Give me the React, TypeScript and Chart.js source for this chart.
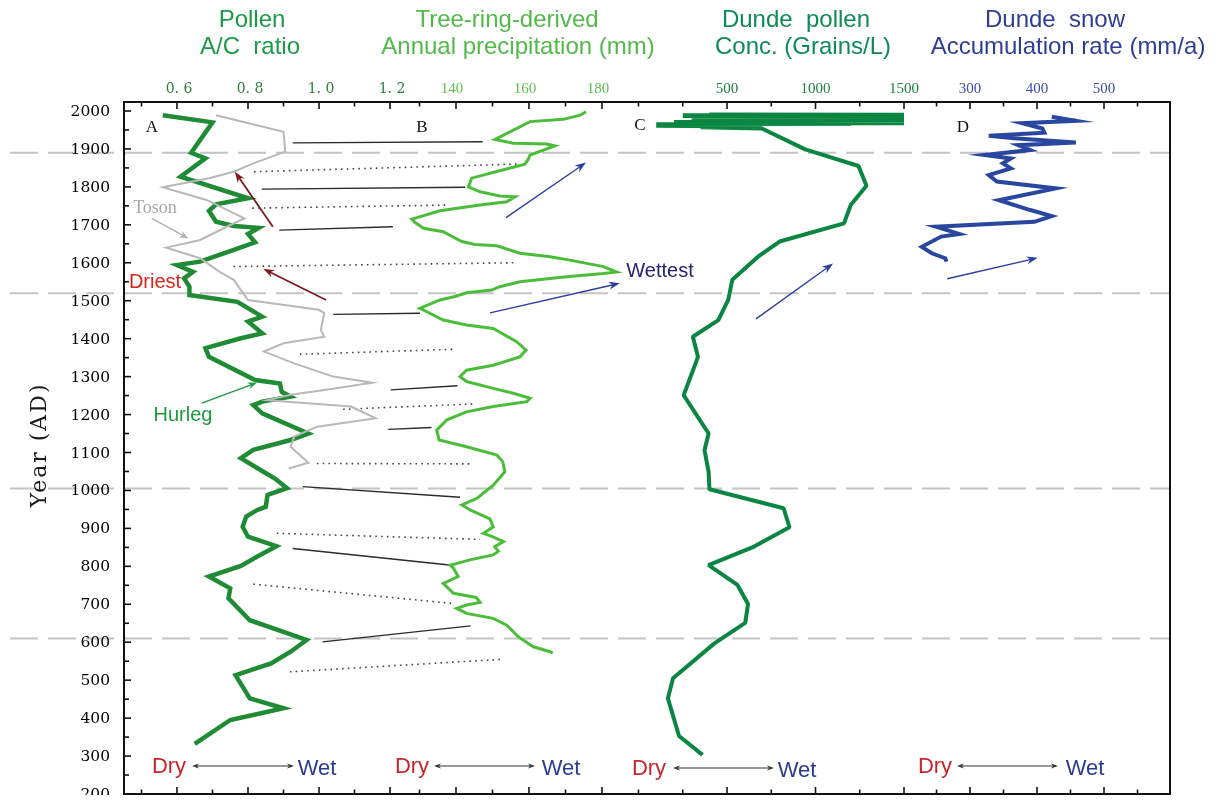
import React, { useEffect, useRef } from "react";
import { Chart, registerables } from "chart.js";
Chart.register(...registerables);

// ---------- DATA ----------
// A: Pollen A/C ratio (Hurleg, Toson)
const hurlegYears = [1989, 1970, 1890, 1875, 1827, 1770, 1754, 1737, 1708, 1697, 1692, 1676, 1654, 1634, 1603, 1594, 1576, 1559, 1537, 1515, 1497, 1458, 1445, 1414, 1401, 1375, 1352, 1291, 1282, 1260, 1247, 1234, 1225, 1203, 1150, 1133, 1107, 1085, 1054, 1032, 1006, 988, 957, 948, 931, 904, 878, 853, 825, 801, 773, 742, 716, 658, 606, 575, 544, 513, 452, 426, 395, 332];
const hurlegRatio = [0.56, 0.70, 0.64, 0.68, 0.61, 0.80, 0.71, 0.69, 0.71, 0.76, 0.83, 0.80, 0.82, 0.76, 0.665, 0.60, 0.645, 0.62, 0.635, 0.635, 0.77, 0.84, 0.80, 0.84, 0.78, 0.68, 0.69, 0.82, 0.89, 0.895, 0.92, 0.84, 0.815, 0.84, 0.97, 0.92, 0.815, 0.78, 0.835, 0.875, 0.91, 0.855, 0.85, 0.825, 0.795, 0.785, 0.80, 0.88, 0.825, 0.78, 0.69, 0.75, 0.745, 0.805, 0.965, 0.92, 0.865, 0.765, 0.805, 0.90, 0.75, 0.65];
const tosonYears = [1989, 1945, 1893, 1862, 1840, 1823, 1799, 1765, 1717, 1695, 1660, 1640, 1612, 1576, 1555, 1528, 1502, 1476, 1467, 1423, 1405, 1388, 1366, 1335, 1300, 1284, 1265, 1252, 1238, 1221, 1190, 1168, 1142, 1115, 1073, 1058];
const tosonRatio = [0.71, 0.90, 0.905, 0.815, 0.76, 0.69, 0.56, 0.685, 0.79, 0.74, 0.665, 0.57, 0.665, 0.72, 0.76, 0.78, 0.80, 1.00, 1.015, 1.005, 1.015, 0.90, 0.845, 0.93, 1.04, 1.15, 1.015, 0.92, 0.855, 1.09, 1.16, 0.995, 0.93, 0.92, 0.97, 0.915];

// B: Tree-ring-derived annual precipitation (mm)
const precipYears = [1998, 1989, 1978, 1972, 1925, 1915, 1913, 1908, 1884, 1873, 1860, 1845, 1823, 1800, 1787, 1776, 1774, 1761, 1752, 1737, 1715, 1706, 1691, 1682, 1656, 1648, 1645, 1625, 1616, 1607, 1590, 1576, 1572, 1563, 1550, 1537, 1528, 1521, 1511, 1502, 1480, 1471, 1449, 1436, 1427, 1392, 1370, 1352, 1330, 1317, 1300, 1287, 1269, 1256, 1243, 1234, 1221, 1207, 1186, 1159, 1133, 1115, 1093, 1076, 1049, 1014, 979, 962, 948, 925, 904, 887, 879, 865, 852, 840, 830, 817, 803, 795, 773, 755, 729, 718, 705, 698, 689, 676, 663, 645, 614, 588, 575, 571];
const precipMm = [175.6, 174, 169.4, 160.3, 150.7, 155.7, 164.8, 167.1, 160.3, 159.8, 158.9, 153, 144.3, 143.4, 146.6, 152, 156.2, 153.9, 146.6, 135.6, 127.9, 128.8, 131.1, 136.5, 141.6, 145.2, 151.2, 157.5, 165.8, 171.2, 180.4, 184, 180.4, 170.3, 157.5, 152, 149.8, 142.9, 139.7, 135.6, 130.1, 132, 136.5, 142.9, 150.2, 156.6, 159.2, 157.5, 150.2, 142.9, 141.1, 142.9, 150.2, 155.7, 160.3, 159.4, 150.2, 142.9, 137.5, 134.7, 135.4, 142.9, 151.2, 152.8, 153.4, 150.2, 145.7, 141.6, 144.0, 149.3, 150.2, 147.5, 149.8, 153.0, 150.6, 151.6, 150.2, 143.8, 138.4, 139.3, 140.6, 136.5, 139.3, 145.5, 146.6, 142.9, 140.2, 142.9, 150.2, 153.9, 157.1, 161.2, 165.8, 166.5];

// C: Dunde pollen concentration (grains/L)
const concYears = [1991, 1990, 1989, 1988, 1987, 1986, 1985, 1984, 1983, 1982, 1981, 1980, 1979, 1978, 1977, 1976, 1975, 1974, 1973, 1972, 1971, 1970, 1969, 1968, 1967, 1966, 1965, 1963, 1961, 1959, 1957, 1954, 1899, 1855, 1803, 1752, 1704, 1656, 1616, 1555, 1502, 1449, 1405, 1352, 1251, 1150, 1106, 1049, 1003, 953, 903, 852, 803, 751, 701, 651, 597, 505, 452, 353, 303];
const concGrains = [400, 1500, 250, 1500, 250, 1500, 300, 1500, 400, 1500, 300, 1500, 350, 1500, 300, 1500, 400, 1500, 300, 1500, 200, 1500, 250, 1500, 200, 1200, 100, 700, 100, 650, 350, 697, 942, 1243, 1288, 1199, 1161, 797, 675, 530, 507, 451, 307, 336, 255, 396, 373, 396, 401, 820, 853, 653, 396, 559, 619, 603, 429, 195, 166, 229, 362];

// D: Dunde snow accumulation rate (mm/a)
const snowYears = [1985, 1974, 1968, 1954, 1943, 1935, 1928, 1917, 1910, 1897, 1884, 1875, 1862, 1849, 1831, 1814, 1796, 1765, 1739, 1723, 1708, 1695, 1676, 1669, 1642, 1625, 1612, 1603];
const snowRate = [422, 458, 378, 408, 411, 328, 366, 458, 372, 390, 322, 361, 349, 361, 328, 340, 428, 343, 390, 422, 396, 249, 284, 257, 228, 243, 263, 265];

// ticks
const yearTicks = [200, 300, 400, 500, 600, 700, 800, 900, 1000, 1100, 1200, 1300, 1400, 1500, 1600, 1700, 1800, 1900, 2000];
const ratioTicks = [0.6, 0.8, 1.0, 1.2];
const ratioTickLabels = ["0. 6", "0. 8", "1. 0", "1. 2"];
const ratioMinor = [0.5, 0.7, 0.9, 1.1];
const precipTicks = [140, 160, 180];
const precipMinor = [130, 150, 170, 190];
const concTicks = [500, 1000, 1500];
const concMinor = [250, 750, 1250];
const snowTicks = [300, 400, 500];
const snowMinor = [250, 350, 450, 550];
const boundaryYears = [1890, 1520, 1005, 610];

// connectors between A and B
const connSolid = [true, false, true, false, true, false, true, false, true, false, true, false, true, false, true, false, true, false];
const connLeftYear = [1916, 1840, 1794, 1744, 1686, 1590, 1464, 1359, 1265, 1214, 1161, 1071, 1010, 887, 847, 753, 601, 522];
const connLeftRatio = [0.926, 0.817, 0.839, 0.812, 0.888, 0.759, 1.04, 0.946, 1.202, 1.068, 1.195, 0.994, 0.954, 0.881, 0.926, 0.815, 1.01, 0.918];
const connRightYear = [1919, 1860, 1799, 1752, 1695, 1600, 1467, 1372, 1276, 1228, 1166, 1070, 982, 871, 803, 702, 643, 555];
const connRightPrecip = [147.3, 156.6, 142.5, 137.5, 122.7, 155.7, 130.1, 139.5, 140.4, 145.2, 133.3, 144.3, 141.1, 146.6, 138.8, 139.3, 144.0, 152.5];

const OFF = 8; // body margin

export default function App() {
  const ref = useRef<HTMLCanvasElement | null>(null);
  useEffect(() => {
    const canvas = ref.current!;
    const P = (v: number) => v - OFF;

    const arrow = (ctx: CanvasRenderingContext2D, x1: number, y1: number, x2: number, y2: number, color: string, w: number, hl: number, hw: number, both = false) => {
      ctx.save();
      ctx.strokeStyle = color; ctx.fillStyle = color; ctx.lineWidth = w; ctx.setLineDash([]);
      const ang = Math.atan2(y2 - y1, x2 - x1);
      const head = (x: number, y: number, a: number) => {
        ctx.beginPath();
        ctx.moveTo(x, y);
        ctx.lineTo(x - hl * Math.cos(a) + hw * Math.sin(a), y - hl * Math.sin(a) - hw * Math.cos(a));
        ctx.lineTo(x - hl * 0.7 * Math.cos(a), y - hl * 0.7 * Math.sin(a));
        ctx.lineTo(x - hl * Math.cos(a) - hw * Math.sin(a), y - hl * Math.sin(a) + hw * Math.cos(a));
        ctx.closePath(); ctx.fill();
      };
      ctx.beginPath();
      const sx = both ? x1 + hl * 0.7 * Math.cos(ang) : x1, sy = both ? y1 + hl * 0.7 * Math.sin(ang) : y1;
      ctx.moveTo(sx, sy);
      ctx.lineTo(x2 - hl * 0.7 * Math.cos(ang), y2 - hl * 0.7 * Math.sin(ang));
      ctx.stroke();
      head(x2, y2, ang);
      if (both) head(x1, y1, ang + Math.PI);
      ctx.restore();
    };

    const text = (ctx: CanvasRenderingContext2D, s: string, x: number, y: number, font: string, color: string, align: CanvasTextAlign = "center") => {
      ctx.save(); ctx.font = font; ctx.fillStyle = color; ctx.textAlign = align; ctx.textBaseline = "middle";
      ctx.fillText(s, x, y); ctx.restore();
    };

    const plugin = {
      id: "figure",
      beforeDatasetsDraw(chart: any) {
        const ctx: CanvasRenderingContext2D = chart.ctx;
        const { y, xA, xB } = chart.scales;
        const area = chart.chartArea;
        // dashed boundary lines
        ctx.save();
        ctx.strokeStyle = "#c4c4c4"; ctx.lineWidth = 2; ctx.setLineDash([28, 10]);
        boundaryYears.forEach((yr) => {
          const py = y.getPixelForValue(yr);
          ctx.beginPath(); ctx.moveTo(P(10), py); ctx.lineTo(area.right, py); ctx.stroke();
        });
        ctx.restore();
        // connectors
        connSolid.forEach((solid, i) => {
          ctx.save();
          ctx.strokeStyle = solid ? "#2a2a2a" : "#444";
          ctx.lineWidth = solid ? 1.4 : 1.6;
          ctx.setLineDash(solid ? [] : [1.6, 4.2]);
          ctx.beginPath();
          ctx.moveTo(xA.getPixelForValue(connLeftRatio[i]), y.getPixelForValue(connLeftYear[i]));
          ctx.lineTo(xB.getPixelForValue(connRightPrecip[i]), y.getPixelForValue(connRightYear[i]));
          ctx.stroke();
          ctx.restore();
        });
      },
      afterDraw(chart: any) {
        const ctx: CanvasRenderingContext2D = chart.ctx;
        const { y, xA, xB, xC, xD } = chart.scales;
        const a = chart.chartArea;
        // frame
        ctx.save();
        ctx.strokeStyle = "#111"; ctx.lineWidth = 2; ctx.setLineDash([]);
        ctx.strokeRect(a.left, a.top, a.right - a.left, a.bottom - a.top);
        // y ticks
        ctx.lineWidth = 1.6;
        for (let yr = 250; yr <= 2000; yr += 50) {
          const py = y.getPixelForValue(yr);
          const len = yr % 100 === 0 ? 7 : 5;
          ctx.beginPath(); ctx.moveTo(a.left, py); ctx.lineTo(a.left + len, py); ctx.stroke();
        }
        // x ticks top & bottom
        const tk = (px: number, major: boolean) => {
          const len = major ? 7 : 4.5;
          ctx.beginPath(); ctx.moveTo(px, a.top); ctx.lineTo(px, a.top + len); ctx.stroke();
          ctx.beginPath(); ctx.moveTo(px, a.bottom); ctx.lineTo(px, a.bottom - len); ctx.stroke();
        };
        ratioTicks.forEach((v) => tk(xA.getPixelForValue(v), true));
        ratioMinor.forEach((v) => tk(xA.getPixelForValue(v), false));
        precipTicks.forEach((v) => tk(xB.getPixelForValue(v), true));
        precipMinor.forEach((v) => tk(xB.getPixelForValue(v), false));
        concTicks.forEach((v) => tk(xC.getPixelForValue(v), true));
        concMinor.forEach((v) => tk(xC.getPixelForValue(v), false));
        snowTicks.forEach((v) => tk(xD.getPixelForValue(v), true));
        snowMinor.forEach((v) => tk(xD.getPixelForValue(v), false));
        ctx.restore();

        // y labels
        yearTicks.forEach((yr) => text(ctx, String(yr), P(110), y.getPixelForValue(yr) + 1, "15.5px 'DejaVu Serif'", "#000", "right"));
        // top tick labels
        const ty = P(89);
        ratioTicks.forEach((v, i) => text(ctx, ratioTickLabels[i], xA.getPixelForValue(v) + 2, ty, "14px 'DejaVu Serif'", "#2a7f38"));
        precipTicks.forEach((v) => text(ctx, String(v), xB.getPixelForValue(v) - 4, ty, "15px 'Liberation Serif'", "#5cbf4a"));
        concTicks.forEach((v) => text(ctx, String(v), xC.getPixelForValue(v), ty, "15px 'Liberation Serif'", "#1f7f3e"));
        snowTicks.forEach((v) => text(ctx, String(v), xD.getPixelForValue(v), ty, "15px 'Liberation Serif'", "#3b50a3"));

        // headers
        const hf = "24px 'Liberation Sans'";
        text(ctx, "Pollen", P(252), P(20), hf, "#1d9a48");
        text(ctx, "A/C  ratio", P(250), P(47), hf, "#1d9a48");
        text(ctx, "Tree-ring-derived", P(507), P(20), hf, "#52b94a");
        text(ctx, "Annual precipitation (mm)", P(518), P(47), hf, "#52b94a");
        text(ctx, "Dunde  pollen", P(796), P(20), hf, "#0e8a55");
        text(ctx, "Conc. (Grains/L)", P(803), P(47), hf, "#0e8a55");
        text(ctx, "Dunde  snow", P(1055), P(20), hf, "#2e3f93");
        text(ctx, "Accumulation rate (mm/a)", P(1068), P(47), hf, "#2e3f93");

        // y title
        ctx.save();
        ctx.translate(P(40), P(445));
        ctx.rotate(-Math.PI / 2);
        ctx.font = "22px 'DejaVu Serif'";
        (ctx as any).letterSpacing = "2px";
        ctx.fillStyle = "#1a1a1a"; ctx.textAlign = "center"; ctx.textBaseline = "middle";
        ctx.fillText("Year (AD)", 0, 0);
        ctx.restore();

        // panel letters
        const lf = "17px 'Liberation Serif'";
        text(ctx, "A", P(152), P(128), lf, "#111");
        text(ctx, "B", P(422), P(128), lf, "#111");
        text(ctx, "C", P(640), P(126), lf, "#111");
        text(ctx, "D", P(963), P(128), lf, "#111");

        // annotations panel A
        text(ctx, "Toson", P(155), P(208), "18px 'Liberation Serif'", "#a8a8a8");
        arrow(ctx, xA.getPixelForValue(0.529), y.getPixelForValue(1717), xA.getPixelForValue(0.632), y.getPixelForValue(1664), "#b0b0b0", 1.4, 9, 3.5);
        text(ctx, "Driest", P(155), P(282), "20px 'Liberation Sans'", "#e0231f");
        text(ctx, "Hurleg", P(183), P(415), "20px 'Liberation Sans'", "#1e9a3e");
        arrow(ctx, xA.getPixelForValue(0.67), y.getPixelForValue(1230), xA.getPixelForValue(0.825), y.getPixelForValue(1284), "#1e9a3e", 1.4, 9, 3.5);
        arrow(ctx, xA.getPixelForValue(0.87), y.getPixelForValue(1695), xA.getPixelForValue(0.763), y.getPixelForValue(1840), "#7a1c1c", 1.8, 11, 4);
        arrow(ctx, xA.getPixelForValue(1.02), y.getPixelForValue(1502), xA.getPixelForValue(0.843), y.getPixelForValue(1584), "#7a1c1c", 1.8, 11, 4);
        // blue arrows
        arrow(ctx, xB.getPixelForValue(153.7), y.getPixelForValue(1719), xB.getPixelForValue(175.6), y.getPixelForValue(1864), "#2b3f9e", 1.4, 11, 4);
        arrow(ctx, xB.getPixelForValue(149.3), y.getPixelForValue(1468), xB.getPixelForValue(184.9), y.getPixelForValue(1546), "#2b3f9e", 1.4, 11, 4);
        arrow(ctx, xC.getPixelForValue(664), y.getPixelForValue(1452), xC.getPixelForValue(1099), y.getPixelForValue(1598), "#2b3f9e", 1.4, 11, 4);
        arrow(ctx, xD.getPixelForValue(266), y.getPixelForValue(1558), xD.getPixelForValue(401), y.getPixelForValue(1613), "#2b3f9e", 1.4, 11, 4);
        text(ctx, "Wettest", P(660), P(271), "20px 'Liberation Sans'", "#23236e");

        // Dry <-> Wet
        const dw = (dry: number, a1: number, a2: number, wet: number, yy: number) => {
          text(ctx, "Dry", P(dry), P(yy), "22px 'Liberation Sans'", "#c4262b");
          arrow(ctx, P(a1), P(yy - 1), P(a2), P(yy - 1), "#333", 1.2, 7, 2.6, true);
          text(ctx, "Wet", P(wet), P(yy + 2), "22px 'Liberation Sans'", "#2b3d8f");
        };
        dw(169, 192, 294, 317, 767);
        dw(412, 434, 535, 561, 767);
        dw(649, 673, 774, 797, 769);
        dw(935, 957, 1058, 1085, 767);
      },
    };

    const mk = (xs: number[], ys: number[]) => ys.map((yy, i) => ({ x: xs[i], y: yy }));
    const chart = new Chart(canvas, {
      type: "scatter",
      data: {
        datasets: [
          { data: mk(tosonRatio, tosonYears), xAxisID: "xA", yAxisID: "y", showLine: true, borderColor: "#b8b8b8", borderWidth: 2, pointRadius: 0 },
          { data: mk(hurlegRatio, hurlegYears), xAxisID: "xA", yAxisID: "y", showLine: true, borderColor: "#1f8b34", borderWidth: 4.5, pointRadius: 0 },
          { data: mk(precipMm, precipYears), xAxisID: "xB", yAxisID: "y", showLine: true, borderColor: "#4cbd3a", borderWidth: 3, pointRadius: 0 },
          { data: mk(concGrains, concYears), xAxisID: "xC", yAxisID: "y", showLine: true, borderColor: "#0a8642", borderWidth: 4, pointRadius: 0, borderJoinStyle: "bevel" },
          { data: mk(snowRate, snowYears), xAxisID: "xD", yAxisID: "y", showLine: true, borderColor: "#2a47a0", borderWidth: 4, pointRadius: 0 },
        ],
      } as any,
      options: {
        animation: false,
        responsive: false,
        layout: { padding: { left: 116, top: 94, right: 41, bottom: 1 } },
        plugins: { legend: { display: false }, tooltip: { enabled: false } },
        scales: {
          y: { type: "linear", min: 200, max: 2023.72, display: false },
          xA: { type: "linear", axis: "x", min: 0.4507, max: 3.39718, display: false },
          xB: { type: "linear", axis: "x", min: 49.04, max: 335.62, display: false },
          xC: { type: "linear", axis: "x", min: -2906.8, max: 3002.8, display: false },
          xD: { type: "linear", axis: "x", min: -962.7, max: 598.5, display: false },
        },
      } as any,
      plugins: [plugin],
    });
    return () => chart.destroy();
  }, []);
  return <canvas ref={ref} width={1203} height={787} style={{ display: "block" }} />;
}
